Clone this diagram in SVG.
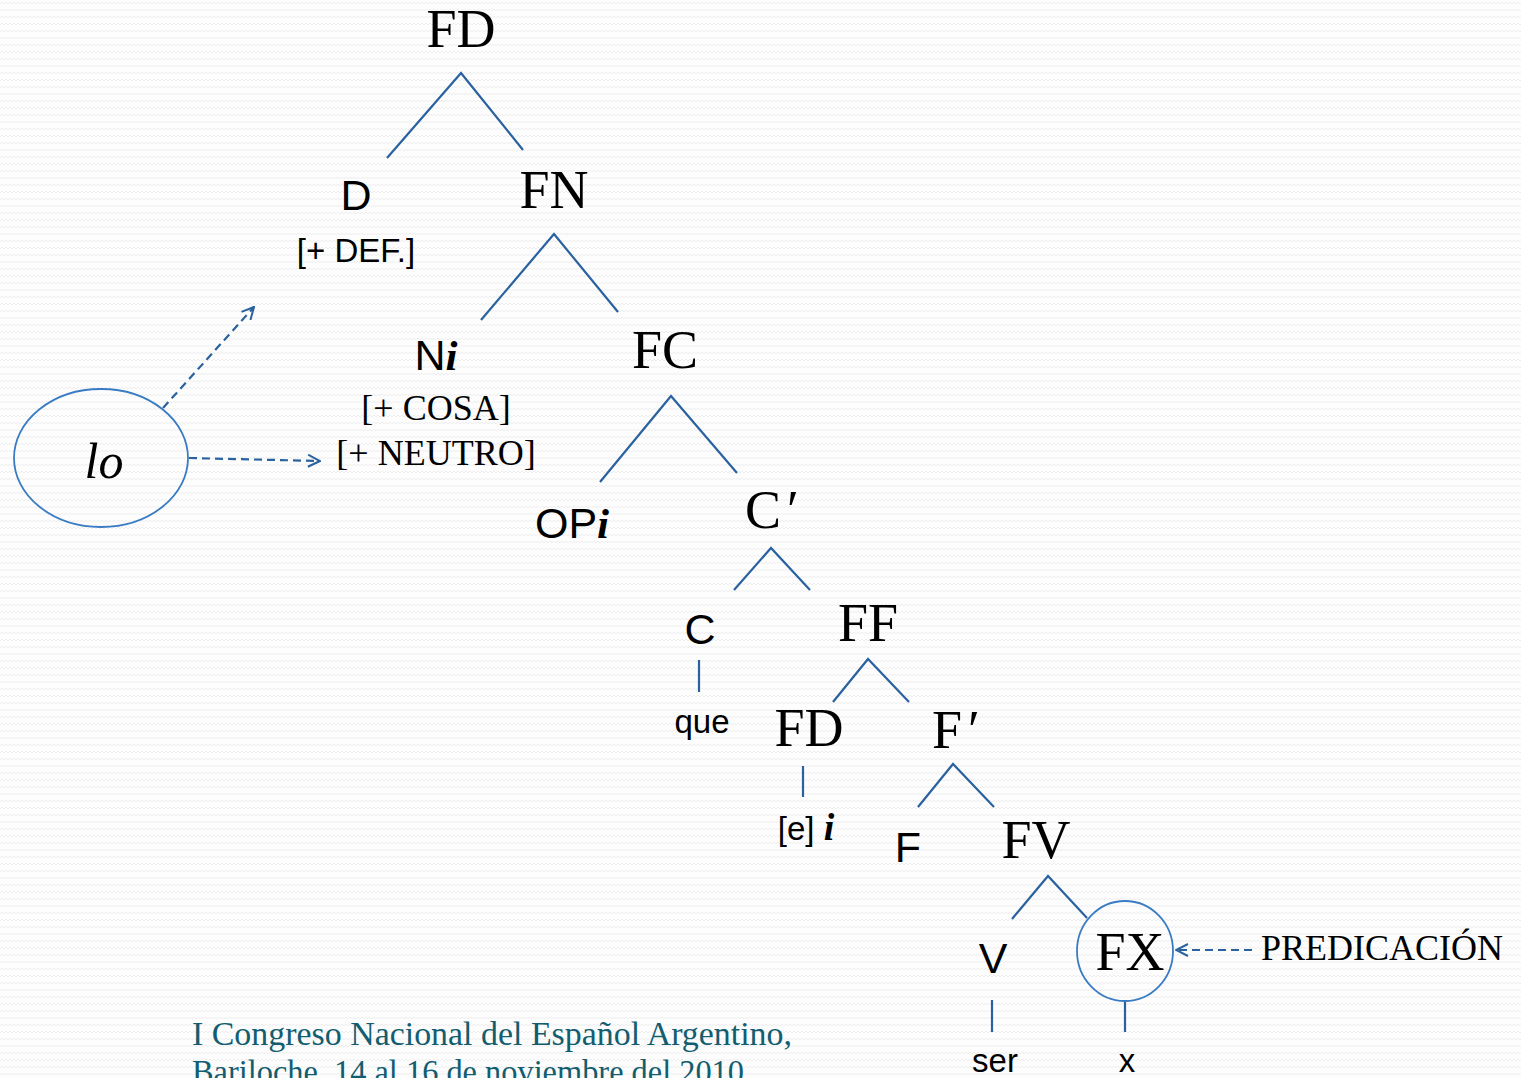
<svg xmlns="http://www.w3.org/2000/svg" width="1521" height="1078" viewBox="0 0 1521 1078">
<defs>
<pattern id="bg" width="8" height="7" patternUnits="userSpaceOnUse">
<rect width="8" height="7" fill="#fdfdfd"/>
<path d="M0 4 L2 2 L4 4 L6 2 L8 4" fill="none" stroke="#eeeeee" stroke-width="1"/>
</pattern>
<marker id="ah" viewBox="0 0 14 14" refX="13" refY="7" markerWidth="14" markerHeight="14" markerUnits="userSpaceOnUse" orient="auto">
<path d="M1 1 L13 7 L1 13" fill="none" stroke="#2a62a0" stroke-width="2"/>
</marker>
<style>
.ser{font-family:"Liberation Serif",serif;fill:#000;text-anchor:middle}
.big{font-size:54px}
.sans{font-family:"Liberation Sans",sans-serif;fill:#000;text-anchor:middle}
.lbl{font-size:43px}
.feat{font-size:36px}
.sm{font-size:33px}
.it{font-family:"Liberation Serif",serif;font-style:italic;font-weight:bold}
.edge{stroke:#2a62a0;stroke-width:2.2;fill:none}
.dash{stroke:#2a62a0;stroke-width:2.2;fill:none;stroke-dasharray:8 5}
.circ{stroke:#3a7cc4;stroke-width:1.8;fill:none}
.foot{font-family:"Liberation Serif",serif;font-size:33px;fill:#135d70}
</style>
</defs>
<rect width="1521" height="1078" fill="url(#bg)"/>
<g id="connectors">
<path class="edge" d="M387 158 L461 73 L523 150"/>
<path class="edge" d="M481 320 L554 234 L618 312"/>
<path class="edge" d="M600 482 L671 396 L737 473"/>
<path class="edge" d="M734 590 L771 548 L810 590"/>
<path class="edge" d="M699 660 L699 692"/>
<path class="edge" d="M833 702 L868 659 L909 702"/>
<path class="edge" d="M803 766 L803 797"/>
<path class="edge" d="M918 807 L953 764 L994 807"/>
<path class="edge" d="M1012 919 L1048 876 L1087 918"/>
<path class="edge" d="M992 1000 L992 1032"/>
<path class="edge" d="M1125 1000 L1125 1032"/>
<path class="dash" d="M163 408 L254 307" marker-end="url(#ah)"/>
<path class="dash" d="M189 458 L320 461" marker-end="url(#ah)"/>
<path class="dash" d="M1252 950 L1176 950" marker-end="url(#ah)"/>
</g>
<g id="n-FD"><text class="ser big" x="461" y="47">FD</text></g>
<g id="n-D"><text class="sans lbl" x="356" y="210">D</text><text class="sans sm" x="356" y="262">[+ DEF.]</text></g>
<g id="n-FN"><text class="ser big" x="554" y="208">FN</text></g>
<g id="n-N"><text class="sans lbl" x="436" y="370">N<tspan class="it">i</tspan></text>
<text class="ser feat" x="436" y="420">[+ COSA]</text>
<text class="ser feat" x="436" y="465">[+ NEUTRO]</text></g>
<g id="n-FC"><text class="ser big" x="665" y="368">FC</text></g>
<g id="n-OP"><text class="sans lbl" x="572" y="538">OP<tspan class="it">i</tspan></text></g>
<g id="n-Cbar"><text class="ser big" x="772" y="528">C<tspan dx="6">′</tspan></text></g>
<g id="n-C"><text class="sans lbl" x="700" y="644">C</text></g>
<g id="n-que"><text class="sans sm" x="702" y="733">que</text></g>
<g id="n-FF"><text class="ser big" x="868" y="641">FF</text></g>
<g id="n-FD2"><text class="ser big" x="809" y="746">FD</text></g>
<g id="n-e"><text class="sans sm" x="806" y="840">[e] <tspan class="it" font-size="38">i</tspan></text></g>
<g id="n-Fbar"><text class="ser big" x="956" y="748">F<tspan dx="6">′</tspan></text></g>
<g id="n-F"><text class="sans lbl" x="908" y="862">F</text></g>
<g id="n-FV"><text class="ser big" x="1036" y="858">FV</text></g>
<g id="n-V"><text class="sans lbl" x="993" y="973">V</text></g>
<g id="n-FX"><ellipse class="circ" cx="1125" cy="951" rx="48" ry="50"/><text class="ser big" x="1130" y="970">FX</text></g>
<g id="n-ser"><text class="sans sm" x="995" y="1072">ser</text></g>
<g id="n-x"><text class="sans sm" x="1127" y="1072">x</text></g>
<g id="n-pred"><text class="ser feat" x="1382" y="960">PREDICACIÓN</text></g>
<g id="n-lo"><ellipse class="circ" cx="101" cy="458" rx="87" ry="69"/><text class="ser" x="104" y="478" font-size="50" font-style="italic">lo</text></g>
<g id="footer">
<text class="foot" x="192" y="1045" textLength="600" lengthAdjust="spacingAndGlyphs">I Congreso Nacional del Español Argentino,</text>
<text class="foot" x="192" y="1083" textLength="552" lengthAdjust="spacingAndGlyphs">Bariloche, 14 al 16 de noviembre del 2010</text>
</g>
</svg>
